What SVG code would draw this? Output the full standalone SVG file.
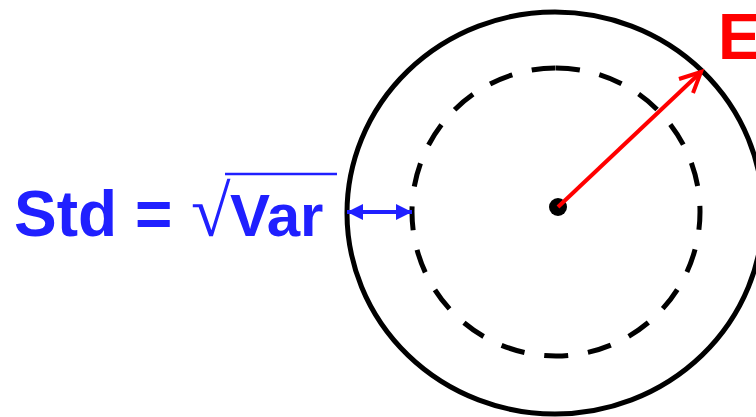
<svg xmlns="http://www.w3.org/2000/svg" width="756" height="417" viewBox="0 0 756 417">
<style>
.lbl{font-family:"Liberation Sans",Arial,sans-serif;font-weight:bold;}
.blue{fill:#2020ff;}
</style>
<defs>
<marker id="bh" viewBox="0 0 16 16" refX="16" refY="8" markerWidth="16" markerHeight="16" markerUnits="userSpaceOnUse" orient="auto-start-reverse">
<path d="M0,0 L16,8 L0,16 Z" fill="#2020ff"/>
</marker>
</defs>
<rect width="756" height="417" fill="#fff"/>
<g id="outer">
<ellipse cx="555" cy="213" rx="208" ry="201" fill="none" stroke="#000" stroke-width="5"/>
</g>
<g id="inner">
<path d="M556,68 A144,144 0 1 1 556,356 A144,144 0 1 1 556,68" fill="none" stroke="#000" stroke-width="5" stroke-dasharray="24 20"/>
</g>
<g id="center">
<circle cx="558" cy="207" r="9" fill="#000"/>
</g>
<g id="connectors">
<line x1="558" y1="207" x2="701" y2="72" stroke="#ff0000" stroke-width="4"/>
<polyline points="679,79 701,72 693,93" fill="none" stroke="#ff0000" stroke-width="4"/>
<line x1="347" y1="212" x2="412" y2="212" stroke="#2020ff" stroke-width="4" marker-start="url(#bh)" marker-end="url(#bh)"/>
</g>
<g id="label-std">
<text class="lbl blue" x="14" y="236" font-size="64">Std =</text>
<text class="blue" x="191" y="236" font-size="72" font-family="Liberation Serif,serif">√</text>
<line x1="225" y1="174" x2="337" y2="174" stroke="#2020ff" stroke-width="2.5"/>
<text class="lbl blue" x="230" y="236" font-size="60">Var</text>
</g>
<g id="label-e">
<text class="lbl" x="718" y="59" font-size="64" fill="#ff0000">E</text>
</g>
</svg>
